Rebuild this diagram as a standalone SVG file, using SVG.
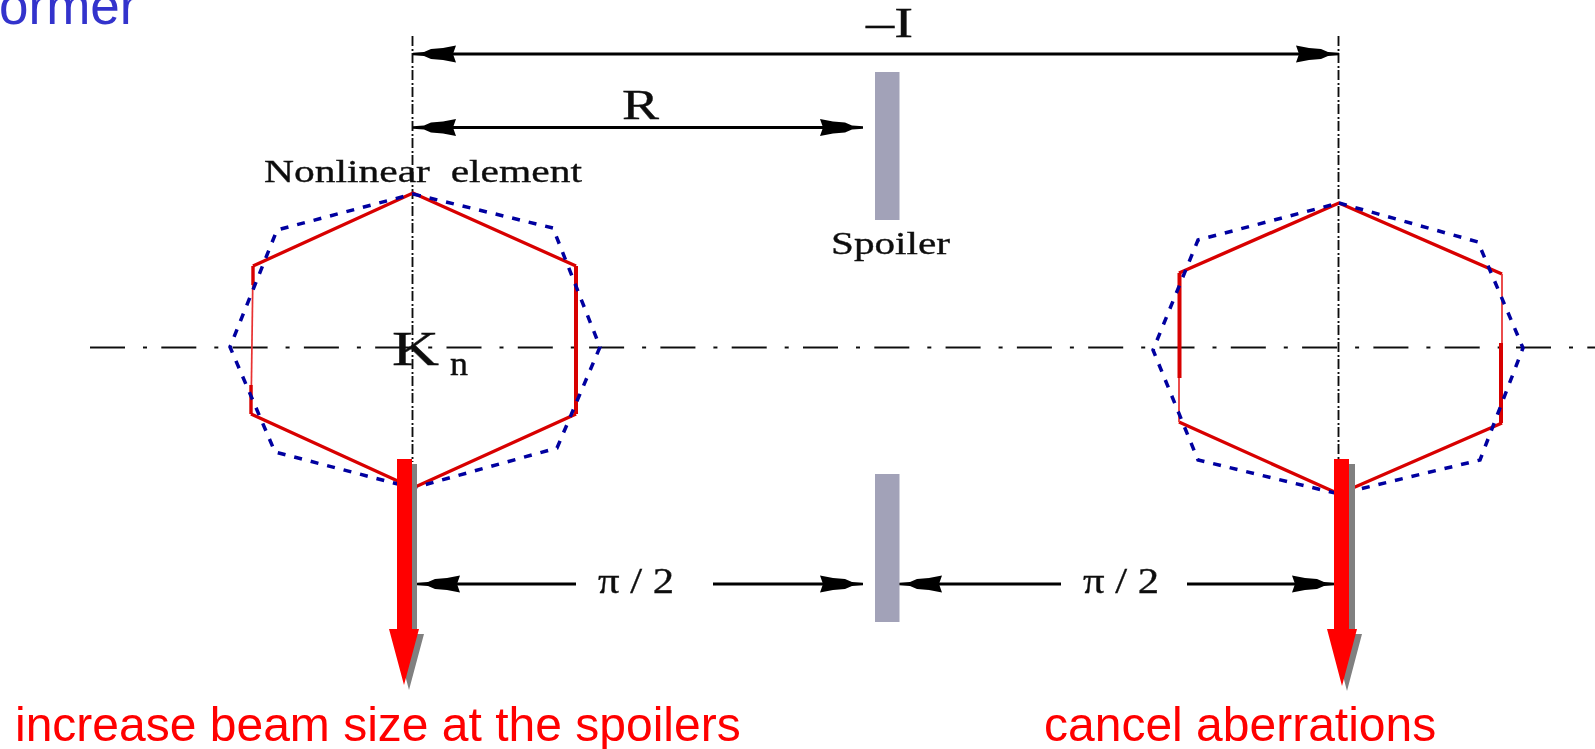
<svg xmlns="http://www.w3.org/2000/svg" width="1595" height="749" viewBox="0 0 1595 749">
<style>
.axis{fill:none;stroke:#111;stroke-width:1.9}
.h{stroke-dasharray:35 18 4 14.3}
.v{stroke-dasharray:10 3 2 2}
.dim{fill:none;stroke:#000;stroke-width:3}
.red{fill:none;stroke:#d80000;stroke-width:3.4;stroke-linejoin:miter}
.thick{stroke-width:4}
.thin{stroke:#e83030;stroke-width:1.7}
.blue{fill:none;stroke:#0000a0;stroke-width:3.5;stroke-dasharray:8 9}
.spoiler{fill:#a2a2b8}
.shadow{fill:#808080}
.beam{fill:#ff0000}
.soft{filter:url(#soft)}
.lab{font-family:"Liberation Serif","Times New Roman",serif;fill:#111;stroke:#111;stroke-width:.35;white-space:pre;filter:url(#soft)}
.cap{font-family:"Liberation Sans",Arial,sans-serif;font-size:48px}
</style>
<defs>
<filter id="soft" filterUnits="userSpaceOnUse" x="-10" y="-10" width="1615" height="769"><feGaussianBlur stdDeviation="0.45"/></filter>
<path id="headL" d="M0-1.200L11-2L18-5L30-6L43-8.500L40 0L43 8.500L30 6L18 5L11 2L0 1.200Z" fill="#000"/>
<path id="headR" d="M0-1.200L-11-2L-18-5L-30-6L-43-8.500L-40 0L-43 8.500L-30 6L-18 5L-11 2L0 1.200Z" fill="#000"/>
</defs>
<rect width="1595" height="749" fill="#fff"/>
<g id="connectors" class="soft">
<line class="axis h" x1="90" y1="347.500" x2="1595" y2="347.500"/>
<line class="axis v" x1="412.500" y1="36" x2="412.500" y2="462"/>
<line class="axis v" x1="1338.500" y1="36" x2="1338.500" y2="462"/>
<line class="dim" x1="425" y1="54" x2="1327" y2="54"/>
<use href="#headL" x="413" y="54"/><use href="#headR" x="1339" y="54"/>
<line class="dim" x1="425" y1="127.500" x2="851" y2="127.500"/>
<use href="#headL" x="413" y="127.500"/><use href="#headR" x="863" y="127.500"/>
<line class="dim" x1="429" y1="584" x2="576" y2="584"/>
<use href="#headL" x="417" y="584"/>
<line class="dim" x1="713" y1="584" x2="851" y2="584"/>
<use href="#headR" x="863" y="584"/>
<line class="dim" x1="911" y1="584" x2="1061" y2="584"/>
<use href="#headL" x="899" y="584"/>
<line class="dim" x1="1187" y1="584" x2="1323" y2="584"/>
<use href="#headR" x="1335" y="584"/>
</g>
<g id="spoiler-top"><rect class="spoiler" x="875" y="72" width="24.500" height="148"/><text class="lab" x="831" y="254" font-size="31" textLength="119" lengthAdjust="spacingAndGlyphs">Spoiler</text></g>
<g id="spoiler-bottom"><rect class="spoiler" x="875" y="474" width="24.500" height="148"/></g>
<g id="element-left">
<g class="soft">
<path class="red" d="M253 266L413 193L576 266M576 414L413 488L251 414"/>
<path class="red thin" d="M253 266L251 414"/>
<path class="red" d="M253 266V285M251 385V414"/>
<path class="red thick" d="M576 266V414"/>
<path class="blue" d="M413 194L553 228L600 347L557 448L413 488L275 452L230 347L277 230Z"/>
</g>
<text class="lab" x="264" y="182" font-size="32" textLength="318" lengthAdjust="spacingAndGlyphs">Nonlinear  element</text>
<text class="lab" x="392" y="365" font-size="48" textLength="47" lengthAdjust="spacingAndGlyphs">K</text>
<text class="lab" x="450" y="375" font-size="33" textLength="18" lengthAdjust="spacingAndGlyphs">n</text>
</g>
<g id="element-right" class="soft">
<path class="red" d="M1179 273L1339 203L1502 274M1502 423L1339 494L1179 422"/>
<path class="red thin" d="M1179 273V422M1502 274V423"/>
<path class="red thick" d="M1179.500 273V378M1501 343V423"/>
<path class="blue" d="M1339 203L1478 242L1523 348L1480 460L1339 494L1198 460L1153 350L1198 240Z"/>
</g>
<g id="beam-left">
<path class="shadow" d="M402 464H417V634H424L409 690L394 634H402Z"/>
<path class="beam" d="M397 459H412V629H419L404 685L389 629H397Z"/>
</g>
<g id="beam-right">
<path class="shadow" d="M1339 464H1355V634H1362L1347 691L1332 634H1339Z"/>
<path class="beam" d="M1334 459H1349V629H1357L1342 686L1327 629H1334Z"/>
</g>
<g id="labels">
<text class="lab" x="866" y="37" font-size="42" textLength="47" lengthAdjust="spacingAndGlyphs">–I</text>
<text class="lab" x="622" y="119" font-size="42" textLength="37" lengthAdjust="spacingAndGlyphs">R</text>
<text class="lab" x="598" y="593" font-size="36" textLength="76" lengthAdjust="spacingAndGlyphs">π / 2</text>
<text class="lab" x="1083" y="593" font-size="36" textLength="76" lengthAdjust="spacingAndGlyphs">π / 2</text>
<text class="cap" x="15" y="741" fill="#ff0000">increase beam size at the spoilers</text>
<text class="cap" x="1044" y="741" fill="#ff0000">cancel aberrations</text>
<text class="cap" x="-1" y="24" fill="#3333cc" style="font-size:53px">ormer</text>
</g>
</svg>
